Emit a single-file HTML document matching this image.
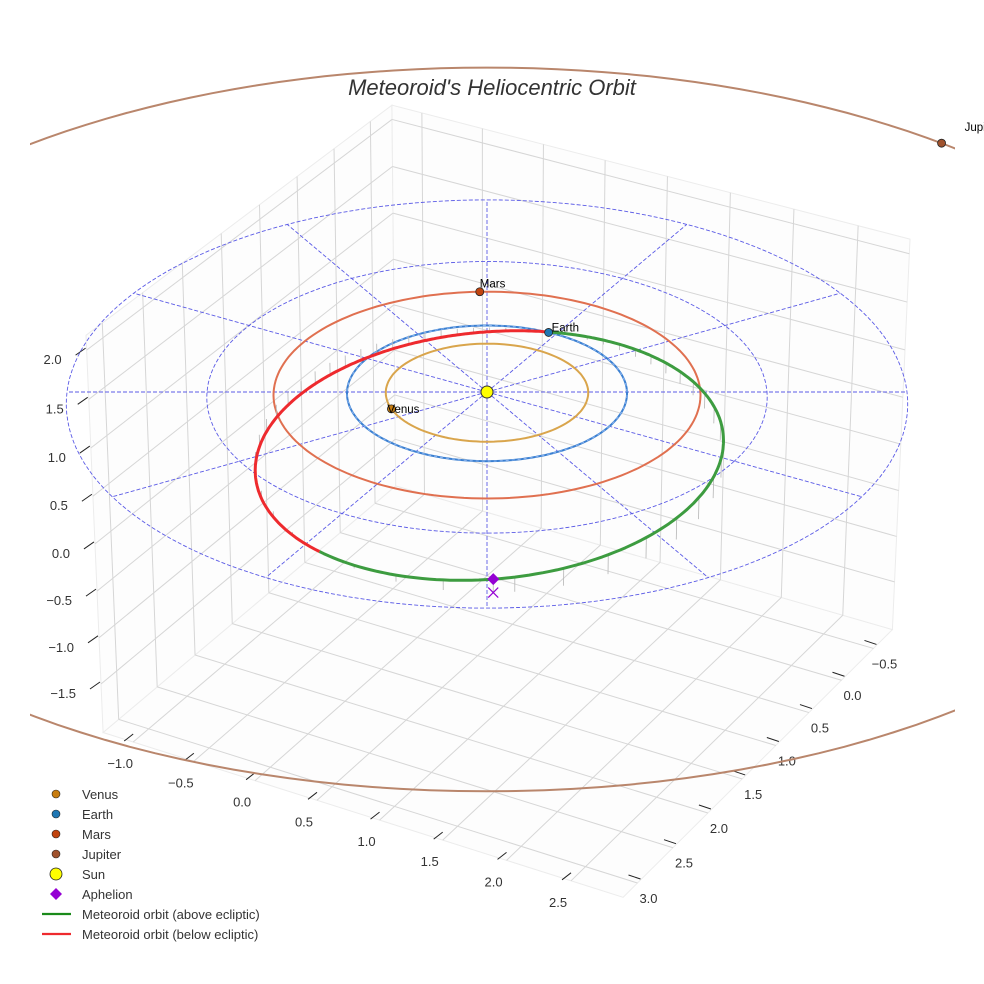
<!DOCTYPE html>
<html><head><meta charset="utf-8"><style>
html,body{margin:0;padding:0;background:#fff;}
svg{display:block;font-family:"Liberation Sans",sans-serif;}
</style></head><body>
<svg id="chart" width="984" height="984" viewBox="0 0 984 984" xmlns="http://www.w3.org/2000/svg">
<defs><clipPath id="axclip"><rect x="30" y="0" width="925" height="984"/></clipPath></defs>
<rect x="0" y="0" width="984" height="984" fill="#ffffff"/>
<g id="panes"></g>
<g id="ticks"></g>
<g id="ecl"></g>
<g id="orbits"></g>
<g id="met"></g>
<g id="pts"></g>
<text x="492" y="95" text-anchor="middle" font-size="22" font-style="italic" fill="#333">Meteoroid's Heliocentric Orbit</text>
<g id="legend"></g>
</svg>
<script>
// ---- data ----
const planetNames = ['Venus', 'Earth', 'Mars', 'Jupiter'];
const planetRadii = [0.723, 1.0, 1.524, 5.28];
const planetLongitudes = [130, -93.4, -122, -78.5];
const planetOrbitColors = ['#d9a54c', '#3a7fd0', '#e07050', '#b9866c'];
const planetPointColors = ['#c87d10', '#1f77b4', '#c1440e', '#a0522d'];
const meteorPerihelion = [0.97];
const meteorAphelion = [2.8];
const meteorPeriLon = [-121];
const meteorNodeLon = [-93.4];
const meteorIncl = [6.2];
const eclipticRings = [1, 2, 3];
const spokeAngles = [0, 30, 60, 90, 120, 150, 180, 210, 240, 270, 300, 330];
const xTicks = [-1.0, -0.5, 0.0, 0.5, 1.0, 1.5, 2.0, 2.5];
const yTicks = [-0.5, 0.0, 0.5, 1.0, 1.5, 2.0, 2.5, 3.0];
const zTicks = [-1.5, -1.0, -0.5, 0.0, 0.5, 1.0, 1.5, 2.0];
const xLim = [-1.25, 2.9], yLim = [-0.8, 3.2], zLim = [-2.03, 2.15];

// ---- projection ----
const C30 = Math.cos(Math.PI/6), S30 = Math.sin(Math.PI/6);
function P(x, y, z) {
  const u = x*C30 - y*S30, v = x*S30 + y*C30;
  const d = 1 - 0.0196*v - 0.01*z;
  return [487 + 140*u/d, 392 + (67.8*v - 92.4*z)/d];
}
const NS = 'http://www.w3.org/2000/svg';
function el(tag, attrs, parent) {
  const e = document.createElementNS(NS, tag);
  for (const k in attrs) e.setAttribute(k, attrs[k]);
  parent.appendChild(e); return e;
}
function pts(arr) { return arr.map(p => p[0].toFixed(1)+','+p[1].toFixed(1)).join(' '); }
function fmt(v) { return (v < 0 ? '\u2212' : '') + Math.abs(v).toFixed(1); }
const rad = Math.PI/180;

// ---- panes & grid ----
const gP = document.getElementById('panes');
const [x0,x1] = xLim, [y0,y1] = yLim, [z0,z1] = zLim;
function line3(a, b, stroke, w, name, parent) {
  const p = P(...a), q = P(...b);
  const l = el('line', {x1:p[0], y1:p[1], x2:q[0], y2:q[1], stroke:stroke, 'stroke-width':w}, parent);
  
  
  return l;
}
[[[x0,y0,z0],[x1,y0,z0],[x1,y1,z0],[x0,y1,z0]],
 [[x0,y0,z0],[x0,y1,z0],[x0,y1,z1],[x0,y0,z1]],
 [[x0,y0,z0],[x1,y0,z0],[x1,y0,z1],[x0,y0,z1]]].forEach((poly, i) => {
  const pg = el('polygon', {points: pts(poly.map(c => P(...c))), fill:'#fdfdfd', stroke:'#ececec', 'stroke-width':1}, gP);
  
  
});
const GC = '#d6d6d6';
xTicks.forEach(x => {
  line3([x,y0,z0],[x,y1,z0], GC, 1, 'floor-grid-x', gP);
  line3([x,y0,z0],[x,y0,z1], GC, 1, 'wall-grid-x', gP);
});
yTicks.forEach(y => {
  line3([x0,y,z0],[x1,y,z0], GC, 1, 'floor-grid-y', gP);
  line3([x0,y,z0],[x0,y,z1], GC, 1, 'wall-grid-y', gP);
});
zTicks.forEach(z => {
  line3([x0,y0,z],[x0,y1,z], GC, 1, 'wall-grid-z', gP);
  line3([x0,y0,z],[x1,y0,z], GC, 1, 'wall-grid-z', gP);
});

// ---- ticks ----
const gT = document.getElementById('ticks');
function tick(p, dx1, dy1, dx2, dy2, lx, ly, anchor, txt, name) {
  const l = el('line', {x1:p[0]+dx1, y1:p[1]+dy1, x2:p[0]+dx2, y2:p[1]+dy2, stroke:'#222', 'stroke-width':1}, gT);
  
  
  const t = el('text', {x:p[0]+lx, y:p[1]+ly, 'text-anchor':anchor, 'font-size':13, fill:'#333'}, gT);
  t.textContent = txt;
  
  
}
xTicks.forEach(x => tick(P(x,y1,z0), 0,-8, -9,-1, -13,26, 'middle', fmt(x), 'x-axis'));
yTicks.forEach(y => tick(P(x1,y,z0), -9,-8, 3,-4, 11,20, 'middle', fmt(y), 'y-axis'));
zTicks.forEach(z => tick(P(x0,y1,z), -1,-2, -11,5, -25,14, 'end', fmt(z), 'z-axis'));

// ---- ecliptic dashed grid ----
const gE = document.getElementById('ecl');
function circlePts(r, z) { const a=[]; for (let k=0;k<=360;k+=2) a.push(P(r*Math.cos(k*rad), r*Math.sin(k*rad), z)); return a; }
eclipticRings.forEach(r => {
  const pl = el('polyline', {points: pts(circlePts(r,0)), fill:'none', stroke:'#5b5be6', 'stroke-width':0.9, 'stroke-dasharray':'4,2'}, gE);
  
  
});
const rMax = eclipticRings[eclipticRings.length-1];
spokeAngles.forEach(a => {
  const o = P(0,0,0), q = P(rMax*Math.cos(a*rad), rMax*Math.sin(a*rad), 0);
  const l = el('line', {x1:o[0], y1:o[1], x2:q[0], y2:q[1], stroke:'#5b5be6', 'stroke-width':0.9, 'stroke-dasharray':'4,2'}, gE);
  
  
});

// ---- planet orbits ----
const gO = document.getElementById('orbits');
planetNames.forEach((n, i) => {
  const pl = el('polyline', {points: pts(circlePts(planetRadii[i],0)), fill:'none', stroke:planetOrbitColors[i], 'stroke-width':2}, gO);
  if (n === 'Jupiter') pl.setAttribute('clip-path', 'url(#axclip)');
  
  
});
{
  const pl = el('polyline', {points: pts(circlePts(1,0)), fill:'none', stroke:'#8ab4f0', 'stroke-width':1, 'stroke-dasharray':'3,3'}, gO);
  
  
}

// ---- meteoroid orbit ----
const gM = document.getElementById('met');
const q = meteorPerihelion[0], Qa = meteorAphelion[0];
const a = (q+Qa)/2, e = (Qa-q)/(Qa+q), p = a*(1-e*e);
const w = meteorPeriLon[0]*rad, Om = meteorNodeLon[0]*rad, inc = meteorIncl[0]*rad;
function orbitPoint(nu) {
  const r = p/(1+e*Math.cos(nu));
  const lam = w + nu;
  const al = r*Math.cos(lam-Om), pe = r*Math.sin(lam-Om);
  return [al*Math.cos(Om) - pe*Math.cos(inc)*Math.sin(Om),
          al*Math.sin(Om) + pe*Math.cos(inc)*Math.cos(Om),
          pe*Math.sin(inc)];
}
for (let k=-180; k<180; k+=7) {
  const o = orbitPoint(k*rad);
  line3(o, [o[0],o[1],0], '#b5b5b5', 0.8, 'drop-line', gM);
}
let seg = [], segSign = null;
function flush() {
  if (seg.length > 1) {
    const pl = el('polyline', {points: pts(seg), fill:'none', stroke: segSign > 0 ? '#3d9c40' : '#ee2a2e', 'stroke-width':3, 'stroke-linejoin':'round'}, gM);
    
    
  }
}
for (let k=-180; k<=180; k+=1) {
  const o = orbitPoint(k*rad), s = o[2] >= 0 ? 1 : -1, sp = P(...o);
  if (segSign === null) segSign = s;
  if (s !== segSign) { seg.push(sp); flush(); seg = [sp]; segSign = s; } else seg.push(sp);
}
flush();

// ---- bodies ----
const gB = document.getElementById('pts');
const labelDx = [-4, 3, 0, 23], labelDy = [4, -1, -4, -12];
planetNames.forEach((n, i) => {
  const L = planetLongitudes[i]*rad, r = planetRadii[i];
  const s = P(r*Math.cos(L), r*Math.sin(L), 0);
  const c = el('circle', {cx:s[0], cy:s[1], r:4, fill:planetPointColors[i], stroke:'#222', 'stroke-width':0.8}, gB);
  
  
  const t = el('text', {x:s[0]+labelDx[i], y:s[1]+labelDy[i], 'font-size':11.5, fill:'#000'}, gB);
  t.textContent = n;
  
  
});
{
  const s = P(0,0,0);
  const c = el('circle', {cx:s[0], cy:s[1], r:6, fill:'#ffff00', stroke:'#333', 'stroke-width':1}, gB);
  
  
  const ap = orbitPoint(Math.PI), A = P(...ap), B = P(ap[0], ap[1], 0);
  const d = el('polygon', {points: `${A[0]},${A[1]-6} ${A[0]+6},${A[1]} ${A[0]},${A[1]+6} ${A[0]-6},${A[1]}`, fill:'#9400d3'}, gB);
  
  
  const x = el('path', {d:`M${B[0]-5},${B[1]-5}L${B[0]+5},${B[1]+5}M${B[0]+5},${B[1]-5}L${B[0]-5},${B[1]+5}`, stroke:'#9400d3', 'stroke-width':1.2}, gB);
  
  
}

// ---- legend ----
const gL = document.getElementById('legend');
const legendLabels = ['Venus','Earth','Mars','Jupiter','Sun','Aphelion','Meteoroid orbit (above ecliptic)','Meteoroid orbit (below ecliptic)'];
const legendKinds = ['dot','dot','dot','dot','sun','diamond','line','line'];
const legendColors = ['#c87d10','#1f77b4','#c1440e','#a0522d','#ffff00','#9400d3','#1a8a1a','#ee2a2e'];
legendLabels.forEach((lab, i) => {
  const y = 794 + i*20, kind = legendKinds[i], col = legendColors[i];
  let m;
  if (kind === 'dot') m = el('circle', {cx:56, cy:y, r:4, fill:col, stroke:'#222', 'stroke-width':0.6}, gL);
  else if (kind === 'sun') m = el('circle', {cx:56, cy:y, r:6, fill:col, stroke:'#222', 'stroke-width':0.8}, gL);
  else if (kind === 'diamond') m = el('polygon', {points:`56,${y-6} 62,${y} 56,${y+6} 50,${y}`, fill:col}, gL);
  else m = el('line', {x1:42, y1:y, x2:71, y2:y, stroke:col, 'stroke-width':2.2}, gL);
  
  
  const t = el('text', {x:82, y:y+5, 'font-size':13, fill:'#333'}, gL);
  t.textContent = lab;
  
  
});
</script>
</body></html>
